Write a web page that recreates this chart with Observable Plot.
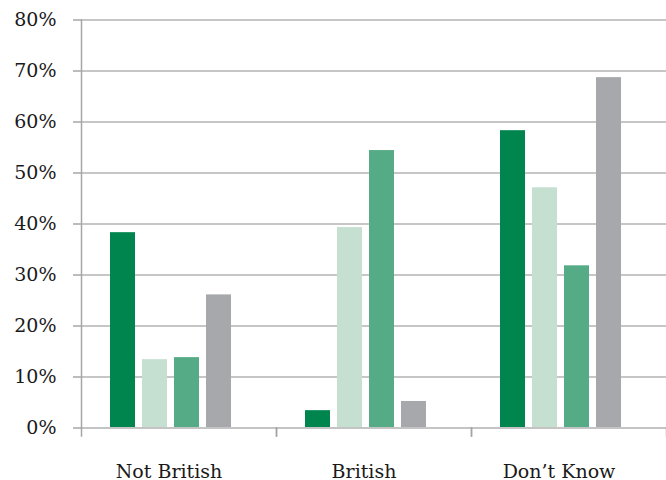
<!DOCTYPE html>
<html>
<head>
<meta charset="utf-8">
<script src="https://cdn.jsdelivr.net/npm/d3@7"></script>
<script src="https://cdn.jsdelivr.net/npm/@observablehq/plot@0.6"></script>
<style>
  html, body { margin: 0; padding: 0; background: #fff; }
  #chart { width: 666px; height: 480px; }
</style>
</head>
<body>
<div id="chart"></div>
<script>
// Categories (groups along the x axis)
const groups = ["Not British", "British", "Don’t Know"];
// Series (four bars per group)
const series = ["Series 1", "Series 2", "Series 3", "Series 4"];
const seriesColors = ["#00854f", "#c5dfd1", "#56ab87", "#a7a8ab"];
// Values in percent, one array per group, in series order
const notBritish = [38.3, 13.4, 13.8, 26.1];
const british = [3.4, 39.3, 54.4, 5.2];
const dontKnow = [58.3, 47.1, 31.8, 68.7];
// Tick values for the y axis
const yTicks = [0, 10, 20, 30, 40, 50, 60, 70, 80];

const valuesByGroup = [notBritish, british, dontKnow];
const data = groups.flatMap((g, gi) =>
  series.map((s, si) => ({group: g, series: s, value: valuesByGroup[gi][si]}))
);

const gridColor = "#b3b3b3";
const axisColor = "#a6a6a6";

const chart = Plot.plot({
  width: 666,
  height: 480,
  marginTop: 19.5,
  marginBottom: 52.5,
  marginLeft: 80,
  marginRight: 0,
  style: {fontFamily: "DejaVu Serif", fontSize: "19px", color: "#1a1a1a", background: "#fff"},
  fx: {domain: groups, padding: 0, label: null},
  x: {domain: series, paddingInner: 0.21, paddingOuter: 1.07, align: 0.4, axis: null},
  y: {domain: [0, 80], label: null},
  color: {domain: series, range: seriesColors},
  marks: [
    Plot.gridY(yTicks, {stroke: gridColor, strokeOpacity: 1, strokeWidth: 1.5}),
    Plot.barY(data, {fx: "group", x: "series", y: "value", fill: "series"}),
    Plot.ruleY([0], {stroke: "#c4c4c4", strokeWidth: 2}),
    Plot.frame({anchor: "left", insetTop: 408, insetBottom: -8, stroke: axisColor, strokeWidth: 1.5}),
    Plot.frame({anchor: "right", insetTop: 408, insetBottom: -8, stroke: axisColor, strokeWidth: 1.5}),
    Plot.frame({anchor: "left", facetAnchor: "left", stroke: axisColor, strokeWidth: 1.5}),
    Plot.axisY({ticks: yTicks, tickSize: 8, tickPadding: 17, tickFormat: d => d + "%", label: null, stroke: axisColor, strokeWidth: 1.5, fill: "#1a1a1a", strokeOpacity: 1}),
    Plot.axisFx({anchor: "bottom", tickSize: 0, tickPadding: 36, dx: -10, label: null, fill: "#1a1a1a"})
  ]
});
document.getElementById("chart").appendChild(chart);
</script>
</body>
</html>
